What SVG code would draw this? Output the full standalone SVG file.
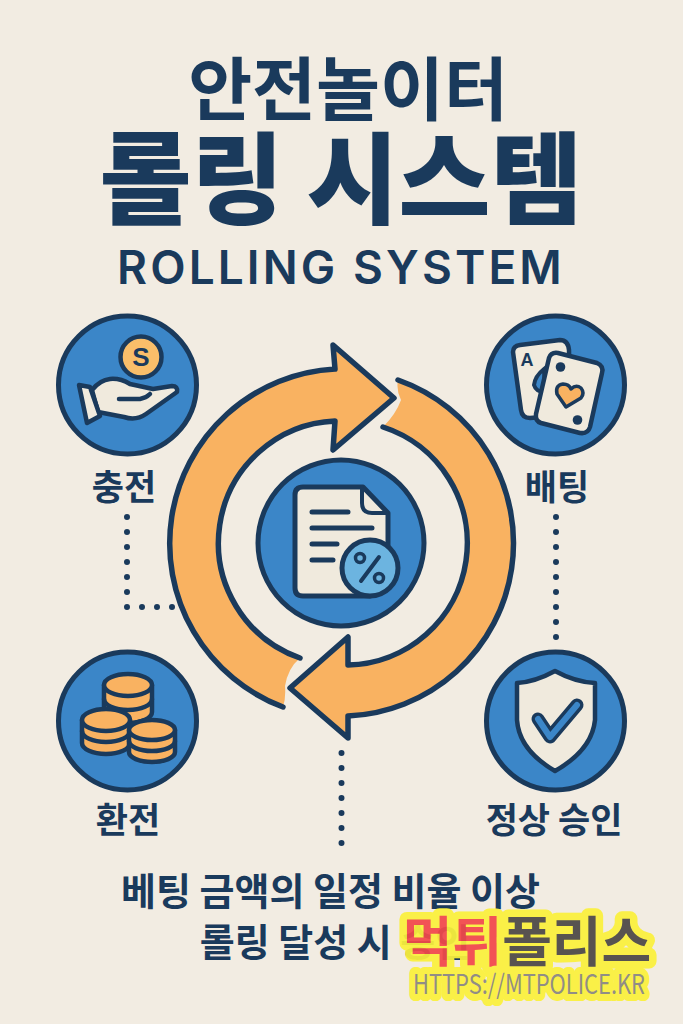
<svg xmlns="http://www.w3.org/2000/svg" width="683" height="1024" viewBox="0 0 683 1024">
<style>
.t{font-family:"Noto Sans CJK KR","Noto Sans",sans-serif;fill:#1A3A5C;text-anchor:middle}
.b{font-weight:700}
.n{fill:#3B86C8;stroke:#1A3A5C;stroke-width:5}
.l{fill:none;stroke:#1A3A5C;stroke-linecap:round;stroke-linejoin:round}
.f{fill:#F0EADD;stroke:#1A3A5C;stroke-width:4.500;stroke-linejoin:round;stroke-linecap:round}
.o{fill:#F9B261}
.c{fill:#F9B261;stroke:#1A3A5C;stroke-width:4.500;stroke-linejoin:round}
.d{fill:none;stroke:#1A3A5C;stroke-width:6;stroke-linecap:round;stroke-dasharray:0 15}
.w{font-family:"Noto Sans CJK KR","Noto Sans",sans-serif;text-anchor:middle;paint-order:stroke;stroke:#FBF13C;stroke-linejoin:round}
</style>
<rect width="683" height="1024" fill="#F2ECE2"/>
<g id="title">
<text class="t" x="348" y="115" font-size="69.500" font-weight="700">안전놀이터</text>
<text class="t" x="341" y="216" font-size="100" font-weight="900">롤링 시스템</text>
<text class="t" x="341" y="284" font-size="46" font-weight="600" letter-spacing="3.100" style="font-family:Inter,'Noto Sans',sans-serif">ROLLING SYSTEM</text>
</g>
<g id="connectors">
<path class="d" d="M127 517V607H175"/>
<path class="d" d="M556 517V640"/>
<path class="d" d="M341.500 753V846"/>
</g>
<g id="cycle">
<path class="o" d="M283 707A174.700 174.700 0 0 1 335 369L333 345L394 398L333 450L335 421A122 122 0 0 0 300 658Q288 668 285 686Q286 698 283 707Z"/>
<path class="l" stroke-width="5.500" d="M283 707A174.700 174.700 0 0 1 335 369L333 345L394 398L333 450L335 421A122 122 0 0 0 300 658"/>
<path class="o" d="M398 380A173 173 0 0 1 348 716L348 738L290 688L348 637L348 665A122 122 0 0 0 383 427Q396 414 401 400Q396 390 398 380Z"/>
<path class="l" stroke-width="5.500" d="M398 380A173 173 0 0 1 348 716L348 738L290 688L348 637L348 665A122 122 0 0 0 383 427"/>
</g>
<g id="center">
<circle class="n" cx="341" cy="543" r="83"/>
<path class="f" style="stroke-width:5" d="M303 487H363L388 513V550L370 575V596H303Q295 596 295 588V495Q295 487 303 487Z"/>
<path class="l" stroke-width="4" d="M362 488V503Q362 513 372 513H387"/>
<path class="l" stroke-width="5" d="M312 512H348M312 528H372M312 544H337M312 560H333"/>
<circle cx="370" cy="568" r="28" fill="#6CB4E0" stroke="#1A3A5C" stroke-width="5"/>
<path class="l" stroke-width="4" d="M361 581L379 557"/>
<circle cx="360" cy="558" r="4.500" fill="none" stroke="#1A3A5C" stroke-width="3.500"/>
<circle cx="379" cy="578" r="4.500" fill="none" stroke="#1A3A5C" stroke-width="3.500"/>
</g>
<g id="node-charge">
<circle class="n" cx="127.500" cy="385" r="69"/>
<circle cx="141" cy="357" r="20.500" fill="#F9BE6A" stroke="#1A3A5C" stroke-width="4.500"/>
<text class="t b" x="141" y="366" font-size="26" style="font-family:'Liberation Sans',sans-serif">S</text>
<path class="f" d="M92 390Q100 380 110 379Q120 378 130 384L153 389L172 386Q178 386 177 392L146 414Q136 421 124 417L98 412Z"/>
<path class="l" stroke-width="4.500" d="M119 399H140Q146 398 150 394"/>
<path class="f" d="M79 385L90 387L100 416L87 423Z"/>
<text class="t b" x="124" y="500" font-size="35">충전</text>
</g>
<g id="node-bet">
<circle class="n" cx="555.500" cy="385" r="69"/>
<path class="f" d="M520 345L560 340Q568 340 569 350L570 415L530 418Q522 418 521 410L513 352Q513 346 520 345Z"/>
<text class="t b" x="527" y="365.500" font-size="18" style="font-family:'Liberation Sans',sans-serif">A</text>
<path fill="#3B86C8" stroke="#1A3A5C" stroke-width="4" d="M544 369Q535 376 534 385Q536 392 545 392Z"/>
<path class="f" d="M558 353L597 363Q604 366 602 373L590 427Q588 434 580 433L541 423Q535 421 536 414L549 358Q551 352 558 353Z"/>
<circle cx="560.500" cy="367" r="4.800" fill="#1A3A5C"/>
<circle cx="577.500" cy="420" r="4.800" fill="#1A3A5C"/>
<path fill="#F9B261" stroke="#1A3A5C" stroke-width="3.500" stroke-linejoin="round" d="M566 407L557 394Q555 385 563 384Q569 384 571 389Q576 384 581 388Q585 393 581 398Z"/>
<text class="t b" x="557" y="500" font-size="35">배팅</text>
</g>
<g id="node-exchange">
<circle class="n" cx="127.500" cy="721" r="69"/>
<path class="c" d="M104 685V712A24 11 0 0 0 152 712V685Z"/>
<path class="l" stroke-width="4.500" d="M104 699A24 11 0 0 0 152 699"/>
<ellipse class="c" cx="128" cy="685" rx="24" ry="11"/>
<path class="c" d="M82 720V743A24 11 0 0 0 130 743V720Z"/>
<path class="l" stroke-width="4.500" d="M82 731A24 11 0 0 0 130 731"/>
<ellipse class="c" cx="106" cy="720" rx="24" ry="11"/>
<path class="c" d="M129 730V752A23 10 0 0 0 175 752V730Z"/>
<path class="l" stroke-width="4.500" d="M129 741A23 10 0 0 0 175 741"/>
<ellipse class="c" cx="152" cy="730" rx="23" ry="10"/>
<text class="t b" x="128" y="833" font-size="35">환전</text>
</g>
<g id="node-approve">
<circle class="n" cx="555.500" cy="721" r="69"/>
<path class="f" d="M555 671Q535 682 517 683V720Q519 750 555 771Q592 750 595 720V683Q575 682 555 671Z"/>
<path fill="none" stroke="#1A3A5C" stroke-width="13" stroke-linecap="round" stroke-linejoin="round" d="M538 719L550 737L577 705"/>
<path fill="none" stroke="#3B86C8" stroke-width="6" stroke-linecap="round" stroke-linejoin="round" d="M538 719L550 737L577 705"/>
<text class="t b" x="554" y="833" font-size="35">정상 승인</text>
</g>
<g id="caption">
<text class="t b" x="330.500" y="905" font-size="38">베팅 금액의 일정 비율 이상</text>
<text class="t b" x="335" y="956" font-size="38">롤링 달성 시 승인</text>
</g>
<g id="watermark" opacity=".93">
<text class="w" x="527" y="962" font-size="54" font-weight="700" stroke-width="15"><tspan fill="#F2484B">먹튀</tspan><tspan fill="#4D4845">폴리스</tspan></text>
<text class="w" x="529" y="994" font-size="27" fill="#8A8680" stroke-width="14" textLength="232" lengthAdjust="spacingAndGlyphs">HTTPS://MTPOLICE.KR</text>
</g>
</svg>
